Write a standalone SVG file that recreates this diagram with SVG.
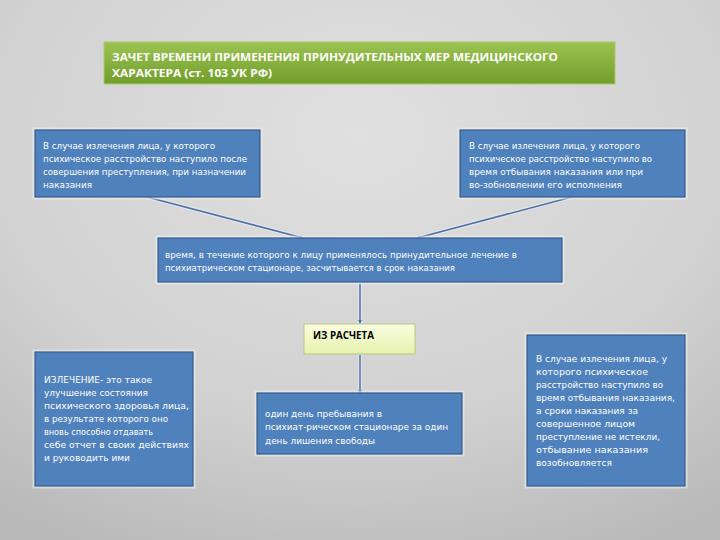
<svg xmlns="http://www.w3.org/2000/svg" width="720" height="540" viewBox="0 0 720 540">
<defs>
<radialGradient id="bg" cx="50%" cy="25%" r="85%">
<stop offset="0" stop-color="#e0e0e0"/>
<stop offset="0.6" stop-color="#d2d2d2"/>
<stop offset="1" stop-color="#b9b9b9"/>
</radialGradient>
<linearGradient id="green" x1="0" y1="0" x2="0" y2="1">
<stop offset="0" stop-color="#9cc351"/>
<stop offset="1" stop-color="#729e2b"/>
</linearGradient>
<linearGradient id="yellow" x1="0" y1="0" x2="0" y2="1">
<stop offset="0" stop-color="#fafde0"/>
<stop offset="1" stop-color="#e6f1ad"/>
</linearGradient>
<marker id="dot" viewBox="0 0 6 6" refX="5" refY="3" markerWidth="2.6" markerHeight="2.6" orient="auto">
<path d="M0,0 L6,3 L0,6 z" fill="#4a72a8"/>
</marker>
</defs>
<style>
.box{fill:#4f81bd;stroke:#385d8a;stroke-width:1.2}
.halo{fill:none;stroke:#eef0f2;stroke-width:3;opacity:0.55}
.t{font-family:"DejaVu Sans","Liberation Sans",sans-serif;font-size:9px;fill:#ffffff}
.title{font-family:"Open Sans","Liberation Sans",sans-serif;font-size:11px;font-weight:bold;fill:#ffffff}
.lbl{font-family:"Open Sans","Liberation Sans",sans-serif;font-size:10px;font-weight:bold;fill:#000000}
.conn{stroke:#4a72a8;stroke-width:1.5;fill:none}
.connhalo{stroke:#f0f2f5;stroke-width:4;fill:none;opacity:0.5}
</style>
<rect width="720" height="540" fill="url(#bg)"/>

<g id="connectors">
<line class="connhalo" x1="147" y1="197" x2="303" y2="238"/>
<line class="connhalo" x1="572" y1="197" x2="417" y2="238"/>
<line class="connhalo" x1="360" y1="283" x2="360" y2="323"/>
<line class="connhalo" x1="360" y1="355" x2="360" y2="393"/>
<line class="conn" x1="147" y1="197" x2="303" y2="238" marker-end="url(#dot)"/>
<line class="conn" x1="572" y1="197" x2="417" y2="238" marker-end="url(#dot)"/>
<line class="conn" x1="360" y1="283" x2="360" y2="323" marker-end="url(#dot)"/>
<line class="conn" x1="360" y1="355" x2="360" y2="393" marker-end="url(#dot)"/>
</g>

<g id="title">
<rect x="104" y="42" width="511" height="42" fill="url(#green)" stroke="#a9c96a" stroke-width="1"/>
<text class="title" x="112" y="61" textLength="446" lengthAdjust="spacingAndGlyphs">ЗАЧЕТ ВРЕМЕНИ ПРИМЕНЕНИЯ ПРИНУДИТЕЛЬНЫХ МЕР МЕДИЦИНСКОГО</text>
<text class="title" x="112" y="77" textLength="160" lengthAdjust="spacingAndGlyphs">ХАРАКТЕРА (ст. 103 УК РФ)</text>
</g>

<g id="box-left-top">
<rect class="halo" x="34" y="129" width="227" height="69"/>
<rect class="box" x="35" y="130" width="225" height="67"/>
<text class="t" x="43" y="149" textLength="172" lengthAdjust="spacingAndGlyphs">В случае излечения лица, у которого</text>
<text class="t" x="43" y="162" textLength="204" lengthAdjust="spacingAndGlyphs">психическое расстройство наступило после</text>
<text class="t" x="43" y="175" textLength="203" lengthAdjust="spacingAndGlyphs">совершения преступления, при назначении</text>
<text class="t" x="43" y="188" textLength="49" lengthAdjust="spacingAndGlyphs">наказания</text>
</g>

<g id="box-right-top">
<rect class="halo" x="459" y="129" width="227" height="69"/>
<rect class="box" x="460" y="130" width="225" height="67"/>
<text class="t" x="469" y="149" textLength="171" lengthAdjust="spacingAndGlyphs">В случае излечения лица, у которого</text>
<text class="t" x="469" y="162" textLength="183" lengthAdjust="spacingAndGlyphs">психическое расстройство наступило во</text>
<text class="t" x="469" y="175" textLength="174" lengthAdjust="spacingAndGlyphs">время отбывания наказания или при</text>
<text class="t" x="469" y="188" textLength="153" lengthAdjust="spacingAndGlyphs">во-зобновлении его исполнения</text>
</g>

<g id="box-center">
<rect class="halo" x="157" y="237" width="406" height="46"/>
<rect class="box" x="158" y="238" width="404" height="44"/>
<text class="t" x="165" y="258" textLength="352" lengthAdjust="spacingAndGlyphs">время, в течение которого к лицу применялось принудительное лечение в</text>
<text class="t" x="165" y="271" textLength="290" lengthAdjust="spacingAndGlyphs">психиатрическом стационаре, засчитывается в срок наказания</text>
</g>

<g id="box-calc">
<rect x="304" y="324" width="111" height="30" fill="url(#yellow)" stroke="#b9c978" stroke-width="1"/>
<text class="lbl" x="313" y="339" textLength="61" lengthAdjust="spacingAndGlyphs">ИЗ РАСЧЕТА</text>
</g>

<g id="box-left-bottom">
<rect class="halo" x="34" y="351" width="160" height="136"/>
<rect class="box" x="35" y="352" width="158" height="134"/>
<text class="t" x="44" y="383" textLength="108" lengthAdjust="spacingAndGlyphs">ИЗЛЕЧЕНИЕ- это такое</text>
<text class="t" x="44" y="396" textLength="104" lengthAdjust="spacingAndGlyphs">улучшение состояния</text>
<text class="t" x="44" y="409" textLength="145" lengthAdjust="spacingAndGlyphs">психического здоровья лица,</text>
<text class="t" x="44" y="422" textLength="124" lengthAdjust="spacingAndGlyphs">в результате которого оно</text>
<text class="t" x="44" y="435" textLength="109" lengthAdjust="spacingAndGlyphs">вновь способно отдавать</text>
<text class="t" x="44" y="448" textLength="145" lengthAdjust="spacingAndGlyphs">себе отчет в своих действиях</text>
<text class="t" x="44" y="461" textLength="86" lengthAdjust="spacingAndGlyphs">и руководить ими</text>
</g>

<g id="box-middle-bottom">
<rect class="halo" x="256" y="392" width="207" height="63"/>
<rect class="box" x="257" y="393" width="205" height="61"/>
<text class="t" x="265" y="417" textLength="117" lengthAdjust="spacingAndGlyphs">один день пребывания в</text>
<text class="t" x="265" y="430" textLength="183" lengthAdjust="spacingAndGlyphs">психиат-рическом стационаре за один</text>
<text class="t" x="265" y="444" textLength="110" lengthAdjust="spacingAndGlyphs">день лишения свободы</text>
</g>

<g id="box-right-bottom">
<rect class="halo" x="526" y="334" width="160" height="153"/>
<rect class="box" x="527" y="335" width="158" height="151"/>
<text class="t" x="536" y="362" textLength="131" lengthAdjust="spacingAndGlyphs">В случае излечения лица, у</text>
<text class="t" x="536" y="375" textLength="112" lengthAdjust="spacingAndGlyphs">которого психическое</text>
<text class="t" x="536" y="388" textLength="127" lengthAdjust="spacingAndGlyphs">расстройство наступило во</text>
<text class="t" x="536" y="401" textLength="139" lengthAdjust="spacingAndGlyphs">время отбывания наказания,</text>
<text class="t" x="536" y="414" textLength="102" lengthAdjust="spacingAndGlyphs">а сроки наказания за</text>
<text class="t" x="536" y="427" textLength="99" lengthAdjust="spacingAndGlyphs">совершенное лицом</text>
<text class="t" x="536" y="440" textLength="124" lengthAdjust="spacingAndGlyphs">преступление не истекли,</text>
<text class="t" x="536" y="453" textLength="112" lengthAdjust="spacingAndGlyphs">отбывание наказания</text>
<text class="t" x="536" y="466" textLength="76" lengthAdjust="spacingAndGlyphs">возобновляется</text>
</g>
</svg>
